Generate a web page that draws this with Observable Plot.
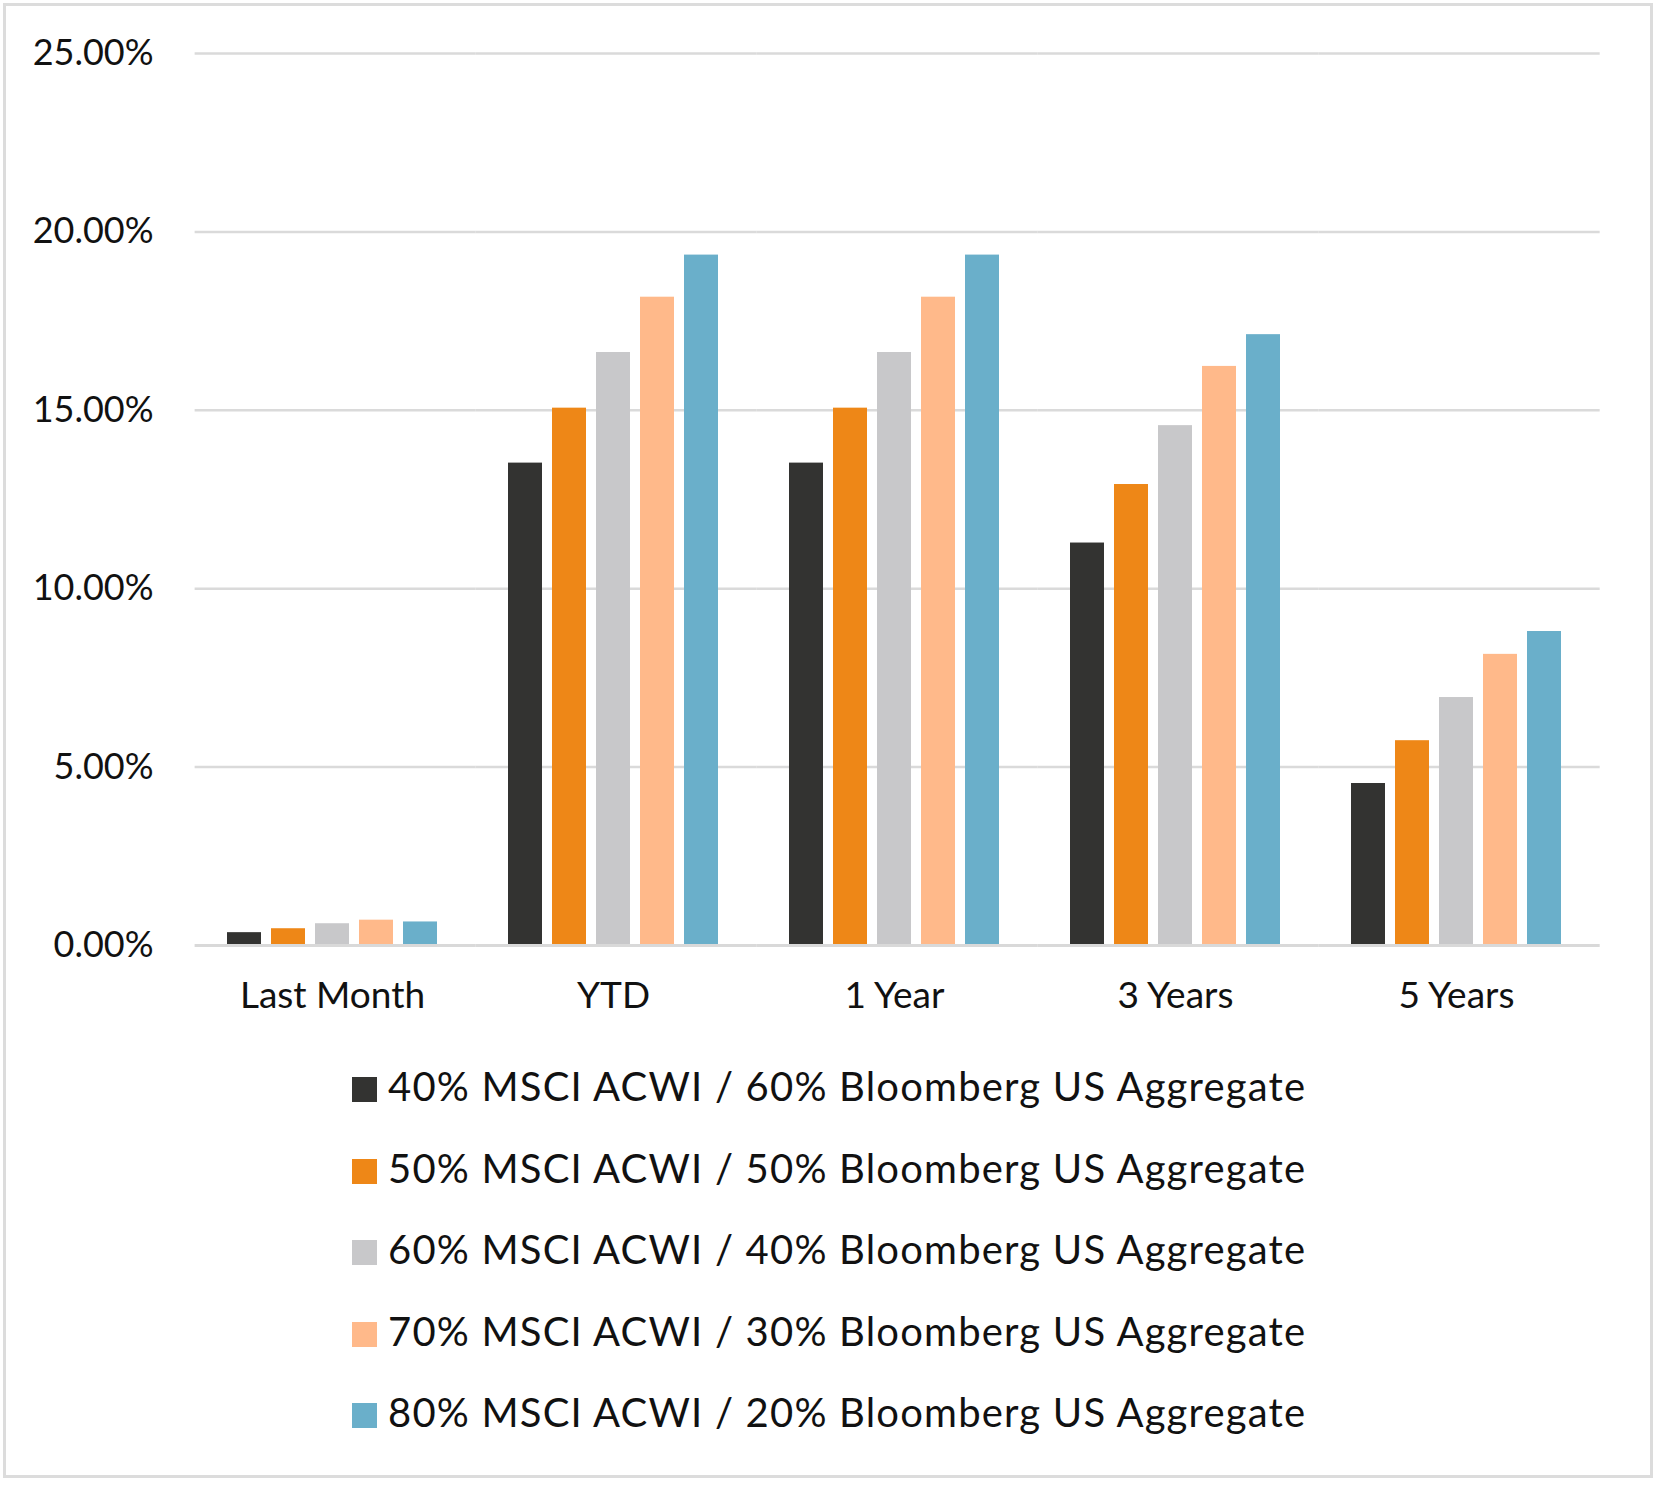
<!DOCTYPE html>
<html>
<head>
<meta charset="utf-8">
<script src="https://cdn.jsdelivr.net/npm/d3@7"></script>
<script src="https://cdn.jsdelivr.net/npm/@observablehq/plot@0.6"></script>
<style>
  html, body { margin: 0; padding: 0; background: #fff; }
  #page { position: relative; width: 1659px; height: 1485px; overflow: hidden; font-family: Lato, "Noto Sans", sans-serif; }
  #frame { position: absolute; left: 3px; top: 3px; width: 1650px; height: 1475px; border: 3px solid #dcdcdc; box-sizing: border-box; }
  #chart { position: absolute; left: 0; top: 0; }
  .lg-sw { position: absolute; width: 25px; height: 25px; }
  .lg-tx { position: absolute; font-size: 40px; line-height: 40px; white-space: nowrap; color: #111; }
</style>
</head>
<body>
<div id="page">
  <div id="frame"></div>
  <div id="chart"></div>
  <div id="legend"></div>
</div>
<script>
const categories = ["Last Month", "YTD", "1 Year", "3 Years", "5 Years"];
const series = [
  "40% MSCI ACWI / 60% Bloomberg US Aggregate",
  "50% MSCI ACWI / 50% Bloomberg US Aggregate",
  "60% MSCI ACWI / 40% Bloomberg US Aggregate",
  "70% MSCI ACWI / 30% Bloomberg US Aggregate",
  "80% MSCI ACWI / 20% Bloomberg US Aggregate"
];
const colors = ["#333331", "#EE8717", "#C8C8CA", "#FFB98A", "#6AAFCA"];
const s40 = [0.36, 13.52, 13.52, 11.28, 4.54];
const s50 = [0.47, 15.06, 15.06, 12.92, 5.74];
const s60 = [0.61, 16.62, 16.62, 14.57, 6.95];
const s70 = [0.71, 18.17, 18.17, 16.23, 8.16];
const s80 = [0.66, 19.35, 19.35, 17.12, 8.80];
const yTicks = [0, 5, 10, 15, 20, 25];

const seriesValues = [s40, s50, s60, s70, s80];
const data = [];
categories.forEach((c, ci) => {
  series.forEach((s, si) => {
    data.push({period: c, series: s, value: seriesValues[si][ci]});
  });
});

const mL = 190, mR = 60;
// half of the gap between category groups, so grid lines run continuously across facets
const fxPaddingInner = 0.244, fxPaddingOuter = 0.122;
const plotW = 1659 - mL - mR;
const fxStep = plotW / (categories.length - fxPaddingInner + 2 * fxPaddingOuter);
const halfGap = fxStep * fxPaddingInner / 2 + 0.3;
const gridInsets = {insetLeft: -(halfGap - 3.3), insetRight: -(halfGap + 3)};

const chart = Plot.plot({
  width: 1659,
  height: 1040,
  marginTop: 53,
  marginBottom: 95,
  marginLeft: mL,
  marginRight: mR,
  style: {fontFamily: "Lato, 'Noto Sans', sans-serif", color: "#111", background: "transparent"},
  fx: {domain: categories, paddingInner: fxPaddingInner, paddingOuter: fxPaddingOuter, label: null},
  x: {domain: series, paddingInner: 0.227, paddingOuter: 0, axis: null},
  y: {domain: [0, 25], ticks: yTicks, label: null},
  color: {domain: series, range: colors},
  marks: [
    Plot.ruleY(yTicks.slice(1), {stroke: "#dadada", strokeWidth: 2.5, ...gridInsets}),
    Plot.barY(data, {fx: "period", x: "series", y: "value", fill: "series"}),
    Plot.ruleY([0], {stroke: "#d9d9d9", strokeWidth: 3, ...gridInsets}),
    Plot.axisY(yTicks, {tickSize: 0, tickPadding: 73, fontSize: 36, tickFormat: d => d.toFixed(2) + "%", label: null}),
    Plot.axisFx({anchor: "bottom", tickSize: 0, tickPadding: 36, fontSize: 37, label: null})
  ]
});
document.getElementById("chart").appendChild(chart);

// Legend (HTML, below the plot area)
const colorScale = chart.scale("color");
const ctx = document.createElement("canvas").getContext("2d");
ctx.font = "40px Lato";
const targetWidth = 921;
const legend = d3.select("#legend");
colorScale.domain.forEach((name, i) => {
  const step = 81.6;
  legend.append("div").attr("class", "lg-sw")
    .style("left", "352px")
    .style("top", (1077 + i * step) + "px")
    .style("background", colorScale.range[i]);
  const w = ctx.measureText(name).width;
  const ls = (targetWidth - w) / name.length;
  legend.append("div").attr("class", "lg-tx")
    .style("left", "388px")
    .style("top", (1066 + i * step) + "px")
    .style("letter-spacing", ls + "px")
    .text(name);
});
</script>
</body>
</html>
